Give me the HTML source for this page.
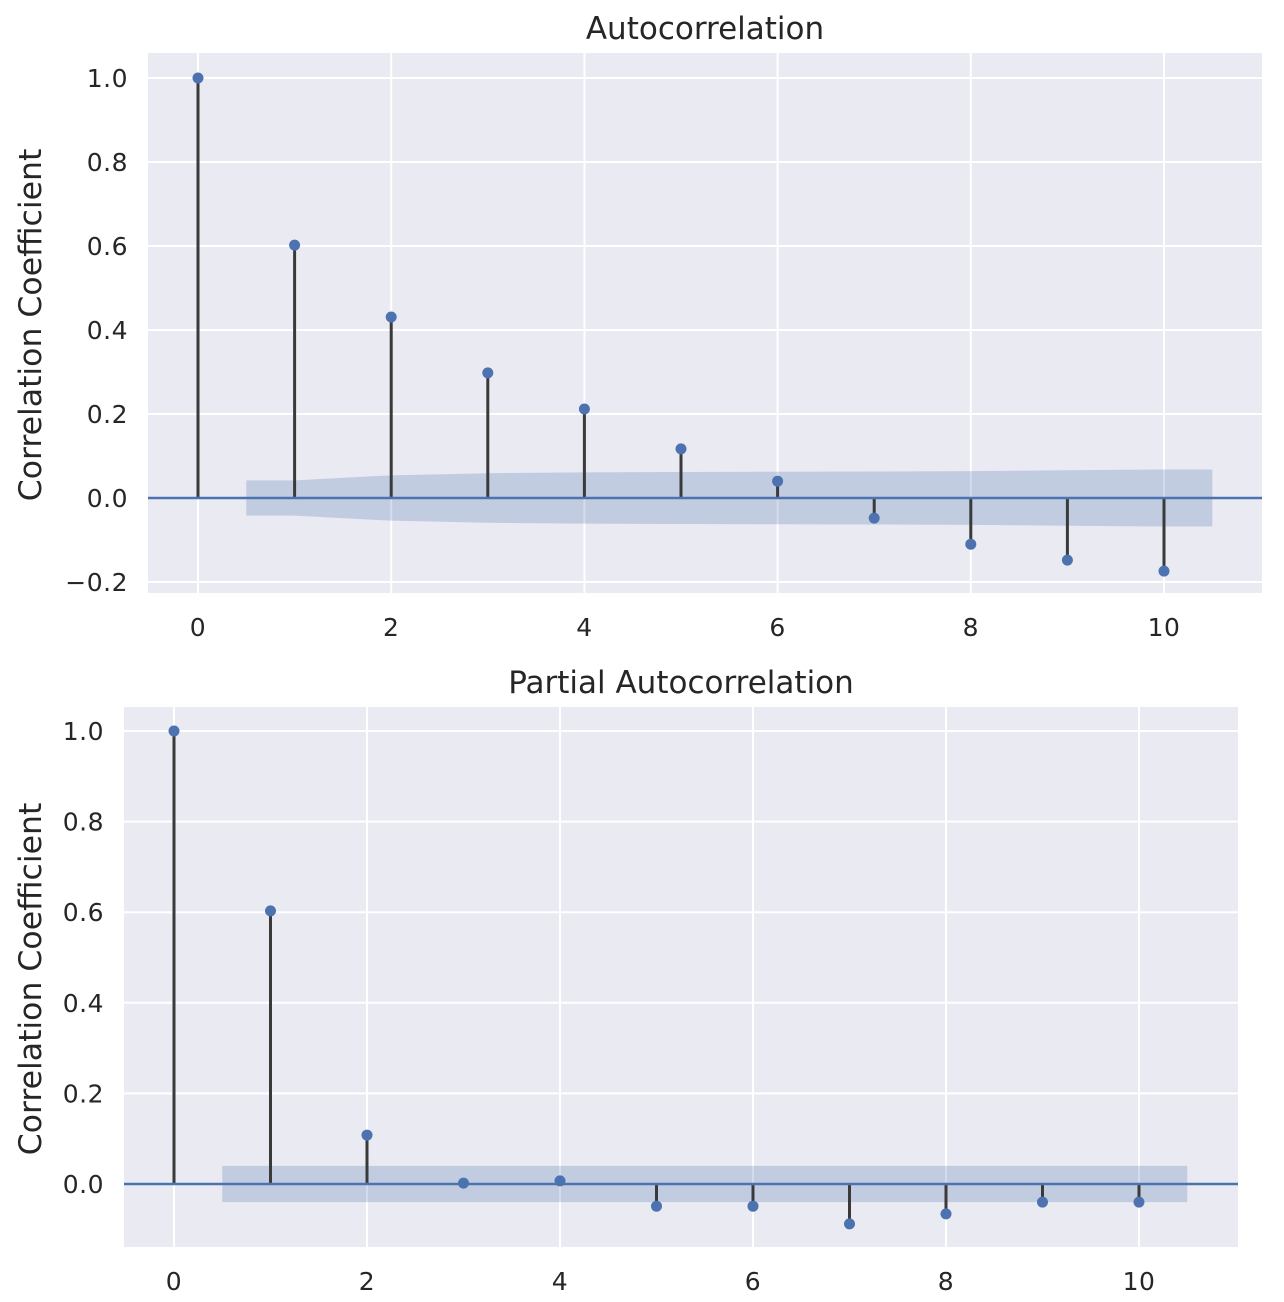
<!DOCTYPE html>
<html><head><meta charset="utf-8"><style>
html,body{margin:0;padding:0;background:#fff;}
svg{display:block;font-family:"DejaVu Sans","Liberation Sans",sans-serif;}
</style></head><body>
<svg id="chart" width="1284" height="1302" viewBox="0 0 1284 1302" xmlns="http://www.w3.org/2000/svg"></svg>
<script>
const lags = [0,1,2,3,4,5,6,7,8,9,10];
const acfValues = [1.0,0.602,0.431,0.298,0.212,0.117,0.040,-0.048,-0.110,-0.148,-0.174];
const acfConf = [0.040,0.042,0.054,0.059,0.061,0.062,0.0625,0.063,0.064,0.066,0.068];
const pacfValues = [1.0,0.603,0.108,0.002,0.007,-0.049,-0.049,-0.088,-0.066,-0.040,-0.040];
const pacfConf = [0.040,0.040,0.040,0.040,0.040,0.040,0.040,0.040,0.040,0.040,0.040];
const xTicks = [0,2,4,6,8,10];
const acfYTicks = [-0.2,0,0.2,0.4,0.6,0.8,1.0];
const pacfYTicks = [0,0.2,0.4,0.6,0.8,1.0];

const svg = document.getElementById('chart');
const NS = 'http://www.w3.org/2000/svg';
function mk(tag, attrs, parent){
  const e = document.createElementNS(NS, tag);
  for (const k in attrs) e.setAttribute(k, attrs[k]);
  (parent||svg).appendChild(e);
  return e;
}

function panel(cfg){
  const g = mk('g', {});
  
  
  const x = v => cfg.x0 + (v - cfg.xv0) * cfg.xs;
  const y = v => cfg.y0 - v * cfg.ys;
  const bg = mk('rect', {x:cfg.L, y:cfg.T, width:cfg.R-cfg.L, height:cfg.B-cfg.T, fill:'#eaeaf2'}, g);
  
  
  cfg.yTicks.forEach(t => {
    mk('line', {x1:cfg.L, x2:cfg.R, y1:y(t), y2:y(t), stroke:'#fff', 'stroke-width':2}, g);
    const tx = mk('text', {x:cfg.L-20, y:y(t)+9, 'text-anchor':'end', 'font-size':25, 'letter-spacing':0.5, fill:'#262626'}, g);
    tx.textContent = (t<0?'\u22120.2':t.toFixed(1));
    
    
  });
  cfg.xTicks.forEach(t => {
    mk('line', {x1:x(t), x2:x(t), y1:cfg.T, y2:cfg.B, stroke:'#fff', 'stroke-width':2}, g);
    const tx = mk('text', {x:x(t), y:cfg.B+43, 'text-anchor':'middle', 'font-size':25, 'letter-spacing':0.5, fill:'#262626'}, g);
    tx.textContent = String(t);
    
    
  });
  const c = cfg.conf;
  let pts = [];
  pts.push([x(0.5), y(c[1])]);
  for (let i=1;i<lags.length;i++) pts.push([x(lags[i]), y(c[i])]);
  pts.push([x(10.5), y(c[c.length-1])]);
  let lower = [];
  lower.push([x(10.5), y(-c[c.length-1])]);
  for (let i=lags.length-1;i>=1;i--) lower.push([x(lags[i]), y(-c[i])]);
  lower.push([x(0.5), y(-c[1])]);
  const band = mk('polygon', {points: pts.concat(lower).map(p=>p.join(',')).join(' '), fill:'#4c72b0', 'fill-opacity':0.25}, g);
  
  
  cfg.values.forEach((v,i) => {
    const s = mk('line', {x1:x(lags[i]), x2:x(lags[i]), y1:y(0), y2:y(v), stroke:'#3a3a3a', 'stroke-width':3}, g);
    
    
  });
  const zl = mk('line', {x1:cfg.L, x2:cfg.R, y1:y(0), y2:y(0), stroke:'#4c72b0', 'stroke-width':2.5}, g);
  
  
  cfg.values.forEach((v,i) => {
    const d = mk('circle', {cx:x(lags[i]), cy:y(v), r:5.5, fill:'#4c72b0'}, g);
    
    
  });
  const title = mk('text', {x:(cfg.L+cfg.R)/2, y:cfg.T-14, 'text-anchor':'middle', 'font-size':31, fill:'#262626'}, g);
  title.textContent = cfg.title;
  
  
  const cy = (cfg.T+cfg.B)/2 + 2;
  const yl = mk('text', {x:41, y:cy, 'text-anchor':'middle', 'font-size':31.5, fill:'#262626', transform:'rotate(-90 41 '+cy+')'}, g);
  yl.textContent = 'Correlation Coefficient';
  
  
}

panel({name:'acf-panel', title:'Autocorrelation', L:148, R:1262, T:53, B:593,
  x0:198, xv0:0, xs:96.6, y0:498, ys:420, values:acfValues, conf:acfConf,
  xTicks:xTicks, yTicks:acfYTicks});
panel({name:'pacf-panel', title:'Partial Autocorrelation', L:124, R:1238, T:707, B:1247,
  x0:174, xv0:0, xs:96.5, y0:1184, ys:453, values:pacfValues, conf:pacfConf,
  xTicks:xTicks, yTicks:pacfYTicks});
</script>
</body></html>
